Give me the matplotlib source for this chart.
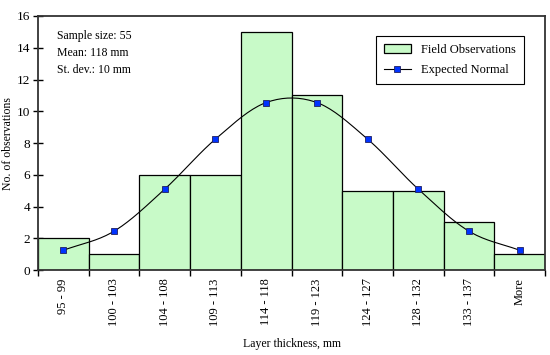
import numpy as np
import matplotlib
matplotlib.use("Agg")
from matplotlib import pyplot as plt

plt.rcParams['font.family'] = ['Liberation Serif', 'DejaVu Serif']

# bins and values
bins = ['95 - 99', '100 - 103', '104 - 108', '109 - 113', '114 - 118',
        '119 - 123', '124 - 127', '128 - 132', '133 - 137', 'More']
observed = [2, 1, 6, 6, 15, 11, 5, 5, 3, 1]
expected = [1.25, 2.45, 5.1, 8.25, 10.55, 10.55, 8.25, 5.1, 2.45, 1.25]


def smooth_curve(x, y, n=20):
    # catmull-rom through the points, roughly what excel's smoothed line does
    x = np.asarray(x, dtype=float)
    y = np.asarray(y, dtype=float)
    px = np.concatenate([[2 * x[0] - x[1]], x, [2 * x[-1] - x[-2]]])
    py = np.concatenate([[2 * y[0] - y[1]], y, [2 * y[-1] - y[-2]]])
    xs, ys = [], []
    t = np.linspace(0, 1, n)
    for i in range(1, len(px) - 2):
        for p, out in ((px, xs), (py, ys)):
            p0, p1, p2, p3 = p[i - 1], p[i], p[i + 1], p[i + 2]
            out.extend(0.5 * ((2 * p1) + (-p0 + p2) * t +
                              (2 * p0 - 5 * p1 + 4 * p2 - p3) * t ** 2 +
                              (-p0 + 3 * p1 - 3 * p2 + p3) * t ** 3))
    return np.array(xs), np.array(ys)


fig = plt.figure(figsize=(5.5, 3.55), dpi=100)
ax = fig.add_axes([0.069, 0.239, 0.922, 0.716])

x = np.arange(len(bins))
bars = ax.bar(x, observed, width=1.0, color='#C8FAC8', edgecolor='black',
              linewidth=0.9, label='Field Observations', zorder=2)

sx, sy = smooth_curve(x, expected)
ax.plot(sx, sy, color='black', linewidth=0.8, zorder=3)
ax.plot(x, expected, linestyle='none', marker='s', markersize=4.5,
        markerfacecolor='#0033FF', markeredgecolor='#202060',
        markeredgewidth=0.6, zorder=4)
# proxy for the legend entry (line with marker)
proxy, = ax.plot([], [], color='black', linewidth=0.8, marker='s', markersize=4.5,
                 markerfacecolor='#0033FF', markeredgecolor='#202060',
                 markeredgewidth=0.6, label='Expected Normal')

ax.set_xlim(-0.5, len(bins) - 0.5)
ax.set_ylim(0, 16)
ax.set_yticks(range(0, 17, 2))
ax.set_xticks(np.arange(len(bins) + 1) - 0.5)
ax.set_xticklabels([])
ax.set_xticks(x, minor=True)
ax.set_xticklabels(bins, minor=True, rotation=90, fontsize=9)
ax.tick_params(axis='x', which='minor', length=0, pad=6)
ax.tick_params(axis='x', which='major', direction='out', length=4, width=1)
ax.tick_params(axis='y', direction='inout', length=7, width=1, labelsize=9.5, pad=2)

for s in ax.spines.values():
    s.set_color('#333333')
    s.set_linewidth(1.3)

ax.set_ylabel('No. of observations', fontsize=8.5)
ax.yaxis.set_label_coords(-0.047, 0.5)
ax.set_xlabel('Layer thickness, mm', fontsize=8.5, labelpad=8)

ax.text(0.037, 0.945, 'Sample size: 55\nMean: 118 mm\nSt. dev.: 10 mm',
        transform=ax.transAxes, fontsize=8.5, va='top', ha='left',
        linespacing=1.55)

leg = ax.legend(handles=[bars, proxy], loc='upper right',
                bbox_to_anchor=(0.97, 0.945), fontsize=9,
                fancybox=False, framealpha=1, edgecolor='black',
                handlelength=2.2, borderpad=0.6, labelspacing=0.7)
leg.get_frame().set_linewidth(0.8)

plt.savefig('out.png', dpi=100)
